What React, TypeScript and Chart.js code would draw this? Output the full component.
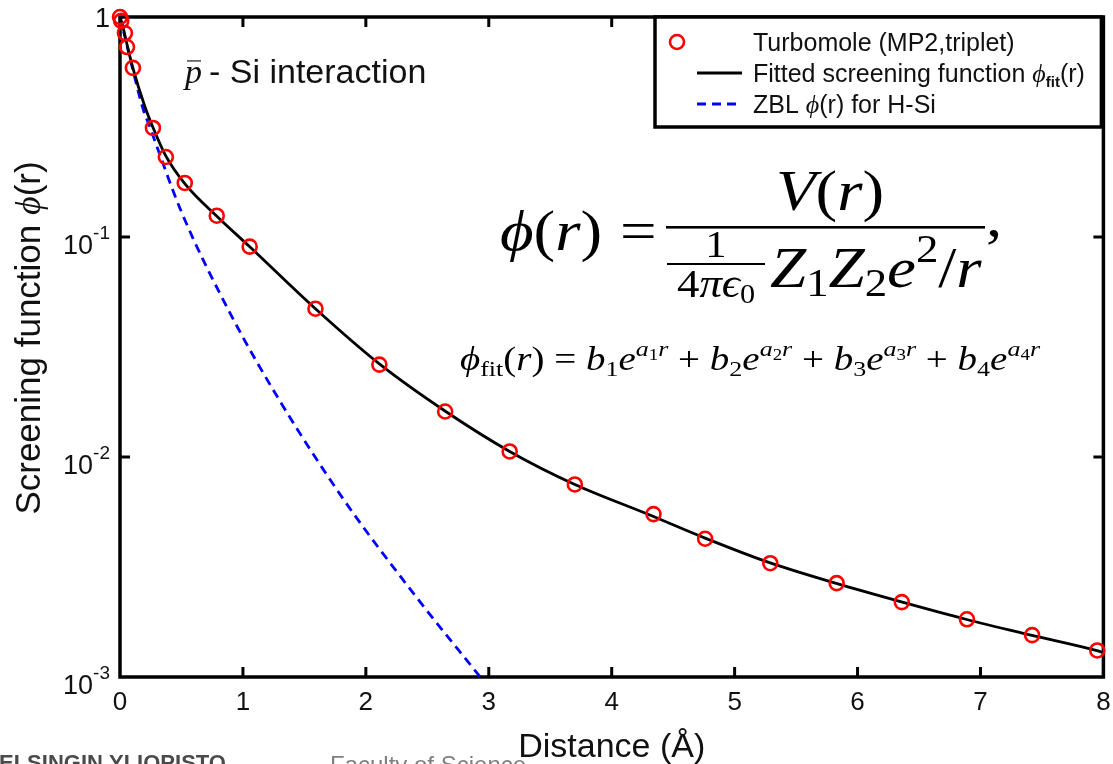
import React, { useEffect, useRef } from "react";
import { Chart, registerables } from "chart.js";

Chart.register(...registerables);

const SANS = '"Liberation Sans", Arial, Helvetica, sans-serif';
const SERIF = '"Liberation Serif", "DejaVu Serif", serif';

// Turbomole MP2 (triplet) screening values, distance in Å
const turbomoleR = [0, 0.01, 0.04, 0.057, 0.105, 0.268, 0.373, 0.527, 0.787, 1.055, 1.59, 2.11, 2.645, 3.17, 3.7, 4.34, 4.76, 5.29, 5.83, 6.36, 6.89, 7.42, 7.95];
const turbomolePhi = [1.0, 0.96, 0.845, 0.73, 0.587, 0.313, 0.231, 0.176, 0.125, 0.0904, 0.0472, 0.0263, 0.0161, 0.0106, 0.0075, 0.0055, 0.00425, 0.00329, 0.00267, 0.00219, 0.00183, 0.00155, 0.00132];

// Fitted four-exponential screening function
const fitR = [0, 0.02, 0.05, 0.1, 0.2, 0.27, 0.37, 0.53, 0.79, 1.06, 1.59, 2.11, 2.65, 3.17, 3.7, 4.3, 4.76, 5.29, 5.82, 6.35, 6.88, 7.41, 7.94, 8.0];
const fitPhi = [1.0, 0.92, 0.78, 0.6, 0.395, 0.313, 0.235, 0.174, 0.124, 0.0898, 0.0472, 0.0265, 0.0161, 0.0106, 0.0075, 0.00548, 0.00428, 0.0033, 0.00267, 0.0022, 0.00183, 0.00155, 0.00132, 0.00129];

// ZBL universal screening for H-Si
const zblR = [0, 0.05, 0.1, 0.19, 0.23, 0.5, 0.91, 1.3, 1.82, 2.4, 2.93];
const zblPhi = [1.0, 0.77, 0.59, 0.378, 0.33, 0.13, 0.0435, 0.018, 0.0064, 0.00235, 0.001];

const xTickValues = [0, 1, 2, 3, 4, 5, 6, 7, 8];
const yTickValues = [0.001, 0.01, 0.1, 1];

const RED = "#ff0000";
const BLUE = "#0000ff";
const INK = "#111111";

type Seg = { t: string; font: string; dy?: number; dx?: number };

const mi = (s: number) => `italic ${s}px ${SERIF}`;
const mr = (s: number) => `${s}px ${SERIF}`;
const sans = (s: number) => `${s}px ${SANS}`;

function segWidth(ctx: CanvasRenderingContext2D, segs: Seg[], sx = 1) {
  let w = 0;
  for (const s of segs) {
    ctx.font = s.font;
    w += (s.dx || 0) + ctx.measureText(s.t).width;
  }
  return w * sx;
}

// draws a run of differently styled pieces, optionally widened by sx
function drawSegs(ctx: CanvasRenderingContext2D, x: number, y: number, segs: Seg[], sx = 1) {
  ctx.save();
  ctx.translate(x, y);
  ctx.scale(sx, 1);
  let cx = 0;
  for (const s of segs) {
    ctx.font = s.font;
    cx += s.dx || 0;
    ctx.fillText(s.t, cx, s.dy || 0);
    cx += ctx.measureText(s.t).width;
  }
  ctx.restore();
  return x + cx * sx;
}

function line(ctx: CanvasRenderingContext2D, x1: number, y1: number, x2: number, y2: number) {
  ctx.beginPath();
  ctx.moveTo(x1, y1);
  ctx.lineTo(x2, y2);
  ctx.stroke();
}

// Axes box with inward ticks on all four sides
const framePlugin = {
  id: "frame",
  beforeDatasetsDraw(chart: any) {
    const { ctx, chartArea: a, scales } = chart;
    ctx.save();
    ctx.strokeStyle = "#000";
    ctx.lineWidth = 3.5;
    ctx.strokeRect(a.left, a.top, a.right - a.left, a.bottom - a.top);
    ctx.lineWidth = 3;
    const tl = 10;
    for (const t of scales.x.ticks) {
      const px = scales.x.getPixelForValue(t.value);
      if (px <= a.left + 2 || px >= a.right - 2) continue;
      line(ctx, px, a.bottom, px, a.bottom - tl);
      line(ctx, px, a.top, px, a.top + tl);
    }
    for (const t of scales.y.ticks) {
      const py = scales.y.getPixelForValue(t.value);
      if (py <= a.top + 2 || py >= a.bottom - 2) continue;
      line(ctx, a.left, py, a.left + tl, py);
      line(ctx, a.right, py, a.right - tl, py);
    }
    ctx.restore();
  },
};

// Labels, formulas and legend box
const annotationPlugin = {
  id: "annotations",
  afterDraw(chart: any) {
    const { ctx, chartArea: a, scales } = chart;
    ctx.save();
    ctx.fillStyle = INK;
    ctx.textBaseline = "alphabetic";
    ctx.textAlign = "left";

    // y tick labels as powers of ten
    for (const t of scales.y.ticks) {
      const v = t.value as number;
      const py = scales.y.getPixelForValue(v);
      const right = a.left - 10;
      if (Math.abs(v - 1) < 1e-9) {
        ctx.font = sans(27);
        const w = ctx.measureText("1").width;
        ctx.fillText("1", right - w, py + 10);
      } else {
        const e = String(Math.round(Math.log10(v)));
        ctx.font = sans(19);
        const we = ctx.measureText(e).width;
        ctx.font = sans(27);
        const wb = ctx.measureText("10").width;
        ctx.fillText("10", right - we - wb, py + 17);
        ctx.font = sans(19);
        ctx.fillText(e, right - we, py + 2);
      }
    }

    // y axis title
    ctx.save();
    ctx.translate(40, 338);
    ctx.rotate(-Math.PI / 2);
    const ytitle: Seg[] = [
      { t: "Screening function ", font: sans(35) },
      { t: "ϕ", font: mi(36) },
      { t: "(r)", font: sans(35) },
    ];
    drawSegs(ctx, -segWidth(ctx, ytitle) / 2, 0, ytitle);
    ctx.restore();

    // x axis title
    ctx.font = sans(34);
    const xt = "Distance (Å)";
    const xtw = ctx.measureText(xt).width;
    ctx.fillText(xt, (a.left + a.right) / 2 - xtw / 2, 757);

    // interaction label
    drawSegs(ctx, 185, 83, [{ t: "p", font: mi(34) }]);
    ctx.fillStyle = "#666";
    ctx.fillRect(187, 60, 14, 1.8);
    ctx.fillStyle = INK;
    drawSegs(ctx, 209, 83, [{ t: "- Si interaction", font: sans(34) }]);

    // definition of the screening function
    const SX = 1.12;
    ctx.fillStyle = "#000";
    drawSegs(ctx, 500, 250, [
      { t: "ϕ", font: mi(58) },
      { t: "(", font: mr(58) },
      { t: "r", font: mi(58) },
      { t: ")", font: mr(58) },
    ], SX);
    drawSegs(ctx, 620, 250, [{ t: "=", font: mr(58) }], SX);
    ctx.fillRect(666, 226, 319, 2.6);
    const num: Seg[] = [
      { t: "V", font: mi(58) },
      { t: "(", font: mr(58) },
      { t: "r", font: mi(58) },
      { t: ")", font: mr(58) },
    ];
    drawSegs(ctx, 830 - segWidth(ctx, num, SX) / 2, 210, num, SX);
    const one: Seg[] = [{ t: "1", font: mr(38) }];
    drawSegs(ctx, 716 - segWidth(ctx, one, SX) / 2, 257, one, SX);
    ctx.fillRect(667, 263, 98, 2);
    const fourPi: Seg[] = [
      { t: "4", font: mr(40) },
      { t: "π", font: mi(40) },
      { t: "ϵ", font: mi(40) },
      { t: "0", font: mr(27), dy: 6 },
    ];
    drawSegs(ctx, 716 - segWidth(ctx, fourPi, SX) / 2, 297, fourPi, SX);
    drawSegs(ctx, 770, 287, [
      { t: "Z", font: mi(58) },
      { t: "1", font: mr(40), dy: 9 },
      { t: "Z", font: mi(58) },
      { t: "2", font: mr(40), dy: 9 },
      { t: "e", font: mi(58) },
      { t: "2", font: mr(40), dy: -25 },
      { t: "/", font: mr(58) },
      { t: "r", font: mi(58) },
    ], SX);
    drawSegs(ctx, 986, 236, [{ t: ",", font: mr(58) }], SX);

    // fitted form
    const f2: Seg[] = [
      { t: "ϕ", font: mi(33) },
      { t: "fit", font: mr(22), dy: 6 },
      { t: "(", font: mr(33) },
      { t: "r", font: mi(33) },
      { t: ")", font: mr(33) },
      { t: " = ", font: mr(33) },
    ];
    for (let i = 1; i <= 4; i++) {
      f2.push(
        { t: "b", font: mi(33) },
        { t: String(i), font: mr(22), dy: 6 },
        { t: "e", font: mi(33) },
        { t: "a", font: mi(22), dy: -14 },
        { t: String(i), font: mr(16), dy: -10 },
        { t: "r", font: mi(22), dy: -14 }
      );
      if (i < 4) f2.push({ t: " + ", font: mr(33) });
    }
    const f2w = segWidth(ctx, f2);
    drawSegs(ctx, 460, 370, f2, 580 / f2w);

    // legend box
    const lx = 655, ly = a.top, lr = a.right - 2, lb = 127;
    ctx.fillStyle = "#fff";
    ctx.fillRect(lx, ly, lr - lx, lb - ly);
    ctx.strokeStyle = "#000";
    ctx.lineWidth = 3.5;
    ctx.strokeRect(lx, ly, lr - lx, lb - ly);

    const ds = chart.data.datasets;
    // marker: circles
    ctx.strokeStyle = ds[0].borderColor;
    ctx.lineWidth = ds[0].borderWidth;
    ctx.beginPath();
    ctx.arc(677, 42, ds[0].pointRadius, 0, Math.PI * 2);
    ctx.stroke();
    // marker: fitted line
    ctx.strokeStyle = ds[1].borderColor;
    ctx.lineWidth = ds[1].borderWidth;
    line(ctx, 697, 73, 742, 73);
    // marker: ZBL dashed
    ctx.strokeStyle = ds[2].borderColor;
    ctx.lineWidth = ds[2].borderWidth;
    ctx.setLineDash(ds[2].borderDash);
    line(ctx, 697, 104, 742, 104);
    ctx.setLineDash([]);

    ctx.fillStyle = INK;
    drawSegs(ctx, 753, 51, [{ t: "Turbomole (MP2,triplet)", font: sans(25) }]);
    drawSegs(ctx, 753, 82, [
      { t: "Fitted screening function ", font: sans(25) },
      { t: "ϕ", font: mi(26) },
      { t: "fit", font: `bold 15px ${SANS}`, dy: 5 },
      { t: "(r)", font: sans(25) },
    ]);
    drawSegs(ctx, 753, 113, [
      { t: "ZBL ", font: sans(25) },
      { t: "ϕ", font: mi(26) },
      { t: "(r) for H-Si", font: sans(25) },
    ]);

    // slide footer
    ctx.fillStyle = "#4a4a4a";
    ctx.font = `bold 22px ${SANS}`;
    const hw = ctx.measureText("H").width;
    ctx.fillText("HELSINGIN YLIOPISTO", -hw - 1, 770);
    ctx.fillStyle = "#808080";
    ctx.font = sans(24);
    ctx.fillText("Faculty of Science", 330, 773);

    ctx.restore();
  },
};

export default function App() {
  const canvasRef = useRef<HTMLCanvasElement | null>(null);

  useEffect(() => {
    const canvas = canvasRef.current;
    if (!canvas) return;
    const chart = new Chart(canvas, {
      type: "scatter",
      data: {
        datasets: [
          {
            label: "Turbomole (MP2,triplet)",
            data: turbomoleR.map((r, i) => ({ x: r, y: turbomolePhi[i] })),
            showLine: false,
            pointStyle: "circle",
            pointRadius: 7,
            pointBorderWidth: 2.6,
            borderWidth: 2.6,
            borderColor: RED,
            pointBorderColor: RED,
            backgroundColor: "rgba(0,0,0,0)",
            pointBackgroundColor: "rgba(0,0,0,0)",
            clip: false,
          } as any,
          {
            label: "Fitted screening function",
            data: fitR.map((r, i) => ({ x: r, y: fitPhi[i] })),
            showLine: true,
            pointRadius: 0,
            borderColor: "#000",
            borderWidth: 2.8,
            cubicInterpolationMode: "monotone",
            clip: false,
          } as any,
          {
            label: "ZBL",
            data: zblR.map((r, i) => ({ x: r, y: zblPhi[i] })),
            showLine: true,
            pointRadius: 0,
            borderColor: BLUE,
            borderWidth: 2.8,
            borderDash: [9, 6],
            cubicInterpolationMode: "monotone",
            clip: false,
          } as any,
        ],
      },
      options: {
        animation: false,
        responsive: false,
        maintainAspectRatio: false,
        events: [],
        layout: { padding: { top: 17, right: 5, left: 0, bottom: 0 } },
        plugins: { legend: { display: false }, tooltip: { enabled: false } },
        scales: {
          x: {
            type: "linear",
            min: 0,
            max: 8,
            afterBuildTicks: (s: any) => {
              s.ticks = xTickValues.map((v) => ({ value: v }));
            },
            ticks: {
              padding: 10,
              color: INK,
              font: { family: SANS, size: 26 },
              maxRotation: 0,
              autoSkip: false,
            },
            grid: { display: false, drawTicks: false },
            border: { display: false },
            afterFit: (s: any) => {
              s.height = 87;
              s.paddingLeft = 0;
              s.paddingRight = 0;
            },
          },
          y: {
            type: "logarithmic",
            min: 0.001,
            max: 1,
            afterBuildTicks: (s: any) => {
              s.ticks = yTickValues.map((v) => ({ value: v }));
            },
            ticks: { display: false },
            grid: { display: false, drawTicks: false },
            border: { display: false },
            afterFit: (s: any) => {
              s.width = 120;
              s.paddingTop = 0;
              s.paddingBottom = 0;
            },
          },
        },
      } as any,
      plugins: [framePlugin, annotationPlugin],
    });
    return () => chart.destroy();
  }, []);

  return (
    <div style={{ position: "fixed", left: 0, top: 0, width: 1113, height: 764, background: "#fff" }}>
      <canvas ref={canvasRef} width={1113} height={764} style={{ display: "block" }} />
    </div>
  );
}
